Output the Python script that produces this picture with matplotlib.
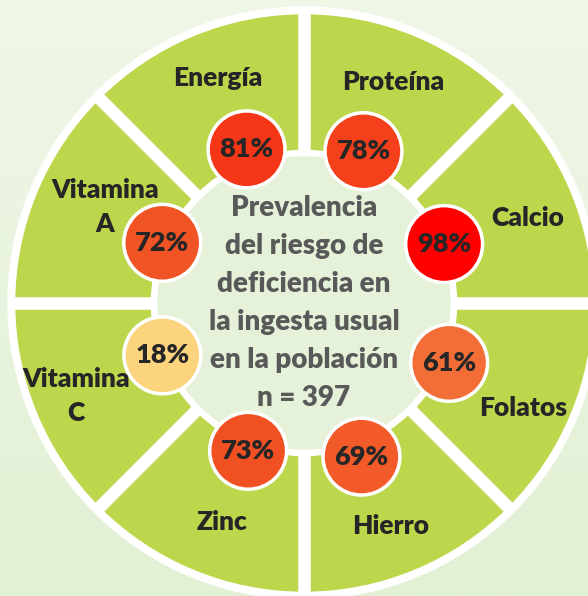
import numpy as np
import matplotlib.pyplot as plt
from matplotlib.patches import Circle, Wedge
from matplotlib.colors import LinearSegmentedColormap, TwoSlopeNorm

# nutrients clockwise from the top-right sector
nutrients = ['Proteína', 'Energía', 'Vitamina\nA', 'Vitamina\nC',
             'Zinc', 'Hierro', 'Folatos', 'Calcio']
prevalence = [78, 81, 72, 18, 73, 69, 61, 98]
center_lines = ['Prevalencia', 'del riesgo de', 'deficiencia en',
                'la ingesta usual', 'en la población', 'n = 397']

# layout (pixels, y up)
W, H = 588, 596
cx, cy = 304, 293
r_outer, r_green, r_inner_w, r_center = 296, 288, 154, 146
sectors = [67.5, 112.5, 157.5, 202.5, 247.5, 292.5, 337.5, 22.5]
badge_pos = [(163, 68.6), (164, 110.5), (154, 157.0), (151, 200.3),
             (158, 249.3), (164, 290.5), (157, 337.6), (152, 22.8)]
label_pos = [(238, 68.0), (241, 111.0), (221, 154.3), (246, 202.2),
             (234, 249.6), (239, 291.3), (243, 334.4), (239, 20.8)]
label_gap = 34

GREEN = '#bdd74c'
CENTER = '#e5f1d8'
DARK = '#262626'
GREY = '#595959'

cmap = LinearSegmentedColormap.from_list('risk', ['#fcd47e', '#f15223', '#ff0000'])
norm = TwoSlopeNorm(vmin=min(prevalence), vcenter=np.median(prevalence), vmax=max(prevalence))

plt.rcParams['font.family'] = ['Lato', 'DejaVu Sans']
plt.rcParams['font.weight'] = 'heavy'

fig = plt.figure(figsize=(W / 100, H / 100), dpi=100)
ax = fig.add_axes([0, 0, 1, 1])
ax.set_xlim(0, W)
ax.set_ylim(0, H)
ax.axis('off')

# background gradient
grad = LinearSegmentedColormap.from_list('bg', ['#e2f0d4', '#eff7e7'])
ax.imshow(np.linspace(0, 1, 256).reshape(-1, 1), cmap=grad, origin='lower',
          extent=[0, W, 0, H], aspect='auto', zorder=0)

ax.add_patch(Circle((cx, cy), r_outer, color='white', zorder=1))
for a in sectors:
    ax.add_patch(Wedge((cx, cy), r_green, a - 22.5, a + 22.5,
                       width=r_green - r_inner_w, color=GREEN, zorder=2))
for k in range(8):
    t = np.radians(k * 45)
    ax.plot([cx + 140 * np.cos(t), cx + (r_outer - 2) * np.cos(t)],
            [cy + 140 * np.sin(t), cy + (r_outer - 2) * np.sin(t)],
            color='white', lw=9, solid_capstyle='butt', zorder=3)
ax.add_patch(Circle((cx, cy), r_center, color=CENTER, zorder=4))

for name, val, (rb, ab), (rl, al) in zip(nutrients, prevalence, badge_pos, label_pos):
    bx, by = cx + rb * np.cos(np.radians(ab)), cy + rb * np.sin(np.radians(ab))
    ax.add_patch(Circle((bx, by), 39.5, color='white', zorder=5))
    ax.add_patch(Circle((bx, by), 36, color=cmap(norm(val)), zorder=6))
    ax.text(bx, by, f'{val}%', ha='center', va='center', fontsize=19.5,
            color=DARK, zorder=7)

    lx, ly = cx + rl * np.cos(np.radians(al)), cy + rl * np.sin(np.radians(al))
    parts = name.split('\n')
    for j, part in enumerate(parts):
        y = ly + label_gap * ((len(parts) - 1) / 2 - j)
        ax.text(lx, y, part, ha='center', va='center', fontsize=19,
                color=DARK, zorder=7)

step = 38
for i, line in enumerate(center_lines):
    y = cy + step * (len(center_lines) - 1) / 2 - i * step
    ax.text(cx, y, line, ha='center', va='center', fontsize=20,
            color=GREY, zorder=7)

fig.savefig('out.png', dpi=100)
